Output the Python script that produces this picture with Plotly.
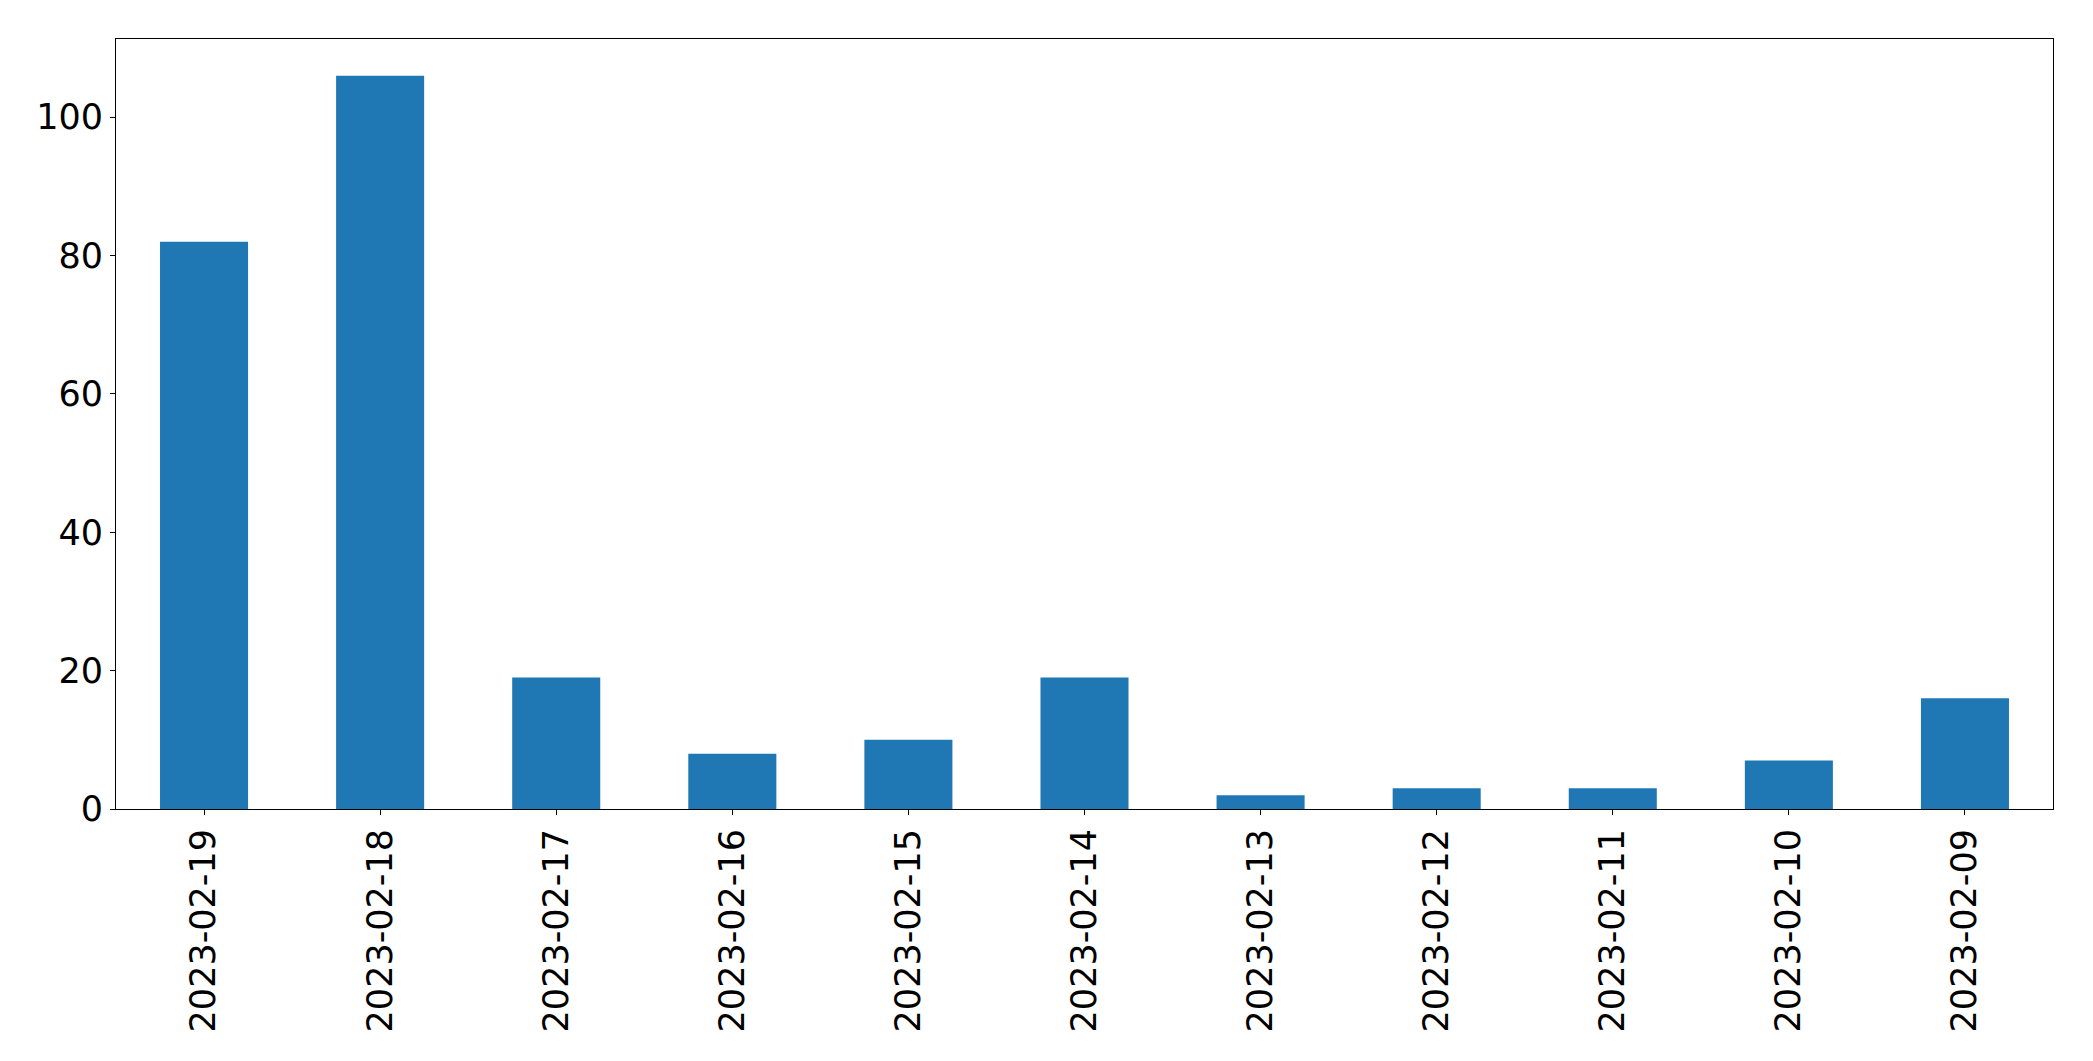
import plotly.graph_objects as go

dates = ["2023-02-19", "2023-02-18", "2023-02-17", "2023-02-16", "2023-02-15",
         "2023-02-14", "2023-02-13", "2023-02-12", "2023-02-11", "2023-02-10", "2023-02-09"]
counts = [82, 106, 19, 8, 10, 19, 2, 3, 3, 7, 16]
y_ticks = [0, 20, 40, 60, 80, 100]

fig = go.Figure(go.Bar(x=dates, y=counts, width=0.5, marker=dict(color="#1f77b4", line=dict(width=0))))

fig.update_layout(
    width=2093, height=1061,
    margin=dict(l=108, r=48, t=31, b=260),
    paper_bgcolor="white", plot_bgcolor="white",
    font=dict(family="DejaVu Sans", size=35, color="black"),
    showlegend=False,
    bargap=0.5,
)
fig.update_xaxes(
    type="category", tickangle=-90, ticks="outside", ticklen=5, tickwidth=1, tickcolor="black",
    showline=True, linecolor="black", linewidth=1, mirror=True, showgrid=False,
    range=[-0.5, len(dates) - 0.5], tickfont=dict(size=35),
)
fig.update_yaxes(
    range=[0, max(counts) * 1.05], tickvals=y_ticks, ticks="outside", ticklen=5, tickwidth=1,
    tickcolor="black", showline=True, linecolor="black", linewidth=1, mirror=True,
    showgrid=False, zeroline=False, tickfont=dict(size=35),
)

fig.write_html("out.html")
